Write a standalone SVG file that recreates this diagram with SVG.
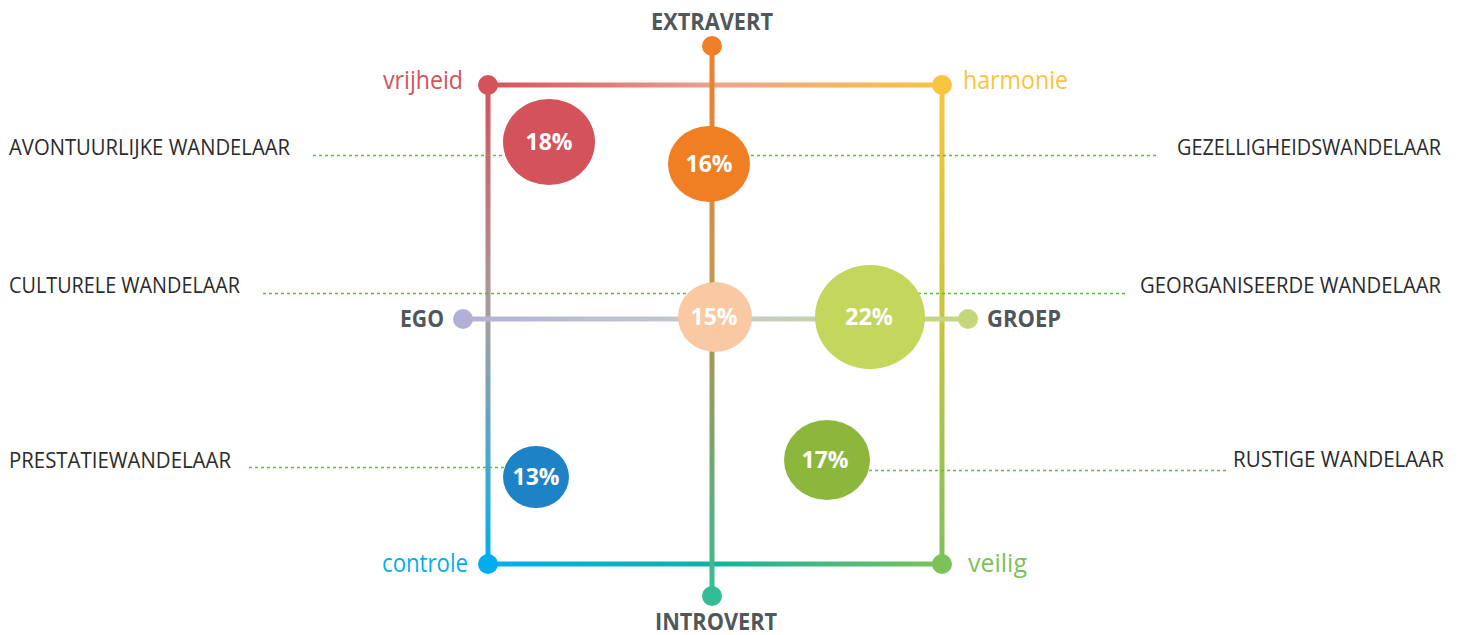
<svg xmlns="http://www.w3.org/2000/svg" width="1461" height="635" viewBox="0 0 1461 635">
<style>
.ax{font-family:"Open Sans","Liberation Sans",sans-serif;font-weight:bold;font-size:24px;fill:#50575a}
.cn{font-family:"Open Sans","Liberation Sans",sans-serif;font-size:26px}
.lb{font-family:"Open Sans","Liberation Sans",sans-serif;font-size:21px;fill:#2b2b2b}
.pc{font-family:"Open Sans","Liberation Sans",sans-serif;font-weight:bold;font-size:23px;fill:#ffffff;text-anchor:middle}
.ln{fill:none;stroke-width:5}
.dash{fill:none;stroke:#5cbc3c;stroke-width:1.4;stroke-dasharray:3 3}
</style>
<defs>
<linearGradient id="gTop" gradientUnits="userSpaceOnUse" x1="488" y1="0" x2="942" y2="0">
<stop offset="0" stop-color="#d4525a"/><stop offset="0.5" stop-color="#eba48a"/><stop offset="1" stop-color="#f9c440"/>
</linearGradient>
<linearGradient id="gBot" gradientUnits="userSpaceOnUse" x1="488" y1="0" x2="942" y2="0">
<stop offset="0" stop-color="#00aeef"/><stop offset="0.5" stop-color="#10b4a0"/><stop offset="1" stop-color="#7dc15a"/>
</linearGradient>
<linearGradient id="gLeft" gradientUnits="userSpaceOnUse" x1="0" y1="84" x2="0" y2="564">
<stop offset="0" stop-color="#d4525a"/><stop offset="0.5" stop-color="#a5a0a0"/><stop offset="1" stop-color="#00aeef"/>
</linearGradient>
<linearGradient id="gRight" gradientUnits="userSpaceOnUse" x1="0" y1="84" x2="0" y2="564">
<stop offset="0" stop-color="#f9c440"/><stop offset="0.5" stop-color="#c8c440"/><stop offset="1" stop-color="#7dc15a"/>
</linearGradient>
<linearGradient id="gV" gradientUnits="userSpaceOnUse" x1="0" y1="46" x2="0" y2="596">
<stop offset="0" stop-color="#f07f2a"/><stop offset="0.4" stop-color="#c8944a"/><stop offset="0.65" stop-color="#8da060"/><stop offset="1" stop-color="#34bc96"/>
</linearGradient>
<linearGradient id="gH" gradientUnits="userSpaceOnUse" x1="463" y1="0" x2="968" y2="0">
<stop offset="0" stop-color="#b3b0d8"/><stop offset="0.5" stop-color="#c5cccb"/><stop offset="1" stop-color="#c4d77b"/>
</linearGradient>
</defs>

<g id="connectors">
<line class="ln" x1="488" y1="85" x2="942" y2="85" stroke="url(#gTop)"/>
<line class="ln" x1="488" y1="564" x2="942" y2="564" stroke="url(#gBot)"/>
<line class="ln" x1="488" y1="85" x2="488" y2="564" stroke="url(#gLeft)"/>
<line class="ln" x1="942" y1="85" x2="942" y2="564" stroke="url(#gRight)"/>
<line class="ln" x1="712" y1="46" x2="712" y2="596" stroke="url(#gV)"/>
<line class="ln" x1="463" y1="319" x2="968" y2="319" stroke="url(#gH)"/>
<line class="dash" x1="313" y1="155.5" x2="549" y2="155.5"/>
<line class="dash" x1="263" y1="293.5" x2="715" y2="293.5"/>
<line class="dash" x1="249" y1="467.5" x2="536" y2="467.5"/>
<line class="dash" x1="709" y1="155.5" x2="1159" y2="155.5"/>
<line class="dash" x1="870" y1="293.5" x2="1127" y2="293.5"/>
<line class="dash" x1="827" y1="470.5" x2="1228" y2="470.5"/>
</g>

<g id="dots">
<circle cx="488" cy="85" r="10" fill="#d4525a"/>
<circle cx="942" cy="85" r="10" fill="#f9c440"/>
<circle cx="488" cy="564" r="10" fill="#00aeef"/>
<circle cx="942" cy="564" r="10" fill="#7dc15a"/>
<circle cx="712" cy="46" r="10" fill="#f07f2a"/>
<circle cx="712" cy="596" r="10" fill="#34bc96"/>
<circle cx="463" cy="319" r="10" fill="#b3b0d8"/>
<circle cx="968" cy="319" r="10" fill="#c4d77b"/>
</g>

<g id="axis-labels">
<text class="ax" x="651" y="30" textLength="122" lengthAdjust="spacingAndGlyphs">EXTRAVERT</text>
<text class="ax" x="655" y="630" textLength="122" lengthAdjust="spacingAndGlyphs">INTROVERT</text>
<text class="ax" x="400" y="327" textLength="44" lengthAdjust="spacingAndGlyphs">EGO</text>
<text class="ax" x="987" y="327" textLength="74" lengthAdjust="spacingAndGlyphs">GROEP</text>
<text class="cn" x="383" y="89" fill="#d4525a" textLength="80" lengthAdjust="spacingAndGlyphs">vrijheid</text>
<text class="cn" x="963" y="89" fill="#f9c440" textLength="105" lengthAdjust="spacingAndGlyphs">harmonie</text>
<text class="cn" x="382" y="572" fill="#00aeef" textLength="86" lengthAdjust="spacingAndGlyphs">controle</text>
<text class="cn" x="968" y="572" fill="#7dc15a" textLength="59" lengthAdjust="spacingAndGlyphs">veilig</text>
</g>

<g id="type-labels">
<text class="lb" x="9" y="155" textLength="281" lengthAdjust="spacingAndGlyphs">AVONTUURLIJKE WANDELAAR</text>
<text class="lb" x="9" y="293" textLength="231" lengthAdjust="spacingAndGlyphs">CULTURELE WANDELAAR</text>
<text class="lb" x="9" y="468" textLength="222" lengthAdjust="spacingAndGlyphs">PRESTATIEWANDELAAR</text>
<text class="lb" x="1177" y="155" textLength="264" lengthAdjust="spacingAndGlyphs">GEZELLIGHEIDSWANDELAAR</text>
<text class="lb" x="1140" y="293" textLength="301" lengthAdjust="spacingAndGlyphs">GEORGANISEERDE WANDELAAR</text>
<text class="lb" x="1233" y="467" textLength="211" lengthAdjust="spacingAndGlyphs">RUSTIGE WANDELAAR</text>
</g>

<g id="node-18">
<ellipse cx="549" cy="142" rx="46" ry="43" fill="#d4525a"/>
<text class="pc" x="549" y="150" textLength="47" lengthAdjust="spacingAndGlyphs">18%</text>
</g>
<g id="node-16">
<ellipse cx="709" cy="164" rx="41" ry="38" fill="#f07f24"/>
<text class="pc" x="709" y="172" textLength="47" lengthAdjust="spacingAndGlyphs">16%</text>
</g>
<g id="node-15">
<ellipse cx="715" cy="317" rx="37" ry="35" fill="#f9c9a3"/>
<text class="pc" x="714" y="325" textLength="47" lengthAdjust="spacingAndGlyphs">15%</text>
</g>
<g id="node-22">
<ellipse cx="870" cy="317" rx="55" ry="52" fill="#c4d65b"/>
<text class="pc" x="869" y="325" textLength="48" lengthAdjust="spacingAndGlyphs">22%</text>
</g>
<g id="node-13">
<ellipse cx="536" cy="477" rx="33" ry="31" fill="#1e82c6"/>
<text class="pc" x="536" y="485" textLength="47" lengthAdjust="spacingAndGlyphs">13%</text>
</g>
<g id="node-17">
<ellipse cx="827" cy="460" rx="43" ry="40" fill="#8db63c"/>
<text class="pc" x="825" y="468" textLength="47" lengthAdjust="spacingAndGlyphs">17%</text>
</g>
</svg>
